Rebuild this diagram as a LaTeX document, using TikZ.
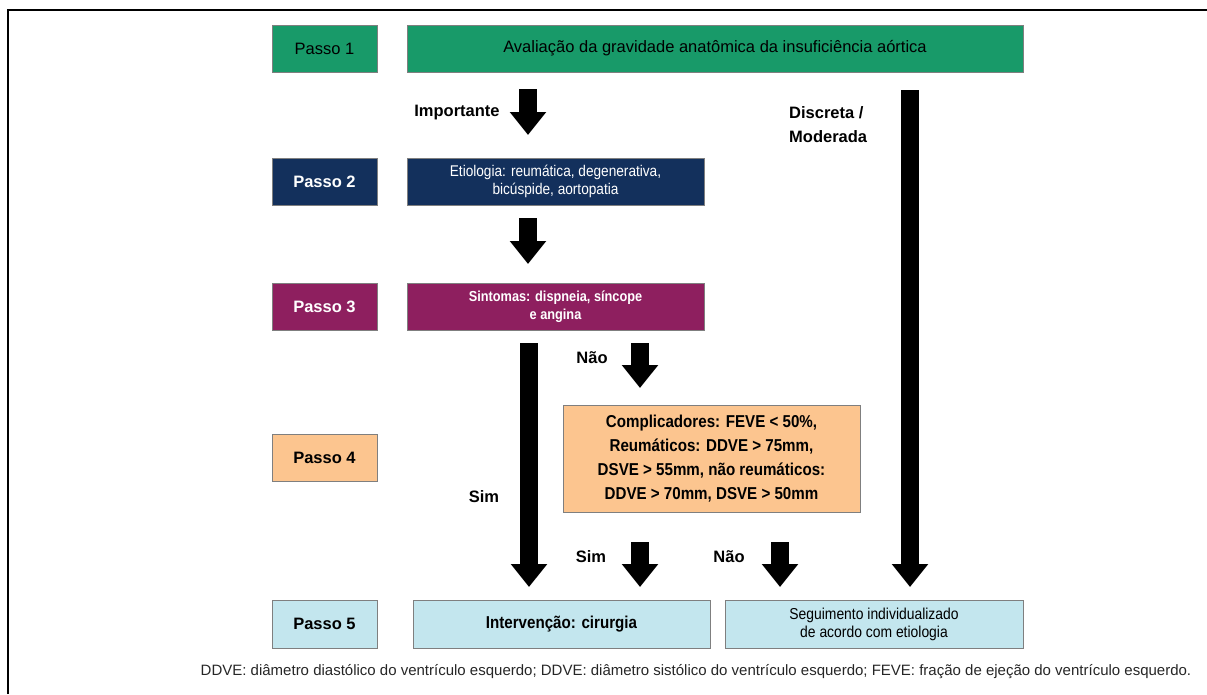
\documentclass[tikz,border=0pt]{standalone}
\usepackage{fontspec}
\setmainfont{Liberation Sans}
\newfontfamily\narrowf[FakeStretch=0.88]{Liberation Sans}
\usetikzlibrary{arrows.meta}
\definecolor{stepa}{HTML}{189A69}
\definecolor{stepb}{HTML}{13305C}
\definecolor{stepc}{HTML}{8E1F5F}
\definecolor{stepd}{HTML}{FCC58F}
\definecolor{stepe}{HTML}{C3E6EE}
\definecolor{rimc}{HTML}{7F7F7F}
\tikzset{
  pas/.style={draw=rimc,minimum width=105pt,minimum height=47pt,inner sep=0pt,font=\fontsize{16.5}{19}\selectfont\bfseries},
  bx/.style={draw=rimc,minimum height=47pt,inner sep=0pt,align=center},
  blk/.style={line width=18pt,-{Triangle[width=35pt,length=23pt]}},
  lb/.style={font=\fontsize{16.5}{24}\selectfont\bfseries,inner sep=0pt}
}

\begin{document}
\begin{tikzpicture}[x=1pt,y=-1pt]
\useasboundingbox (0,0) rectangle (1207,694);
\draw[line width=1.2pt] (8,694) -- (8,10) -- (1207,10);
% passos
\node[pas,fill=stepa,font=\fontsize{16.5}{19}\selectfont] (p1) at (324.5,48.5) {Passo 1};
\node[pas,fill=stepb,text=white] (p2) at (324.5,181.5) {Passo 2};
\node[pas,fill=stepc,text=white] (p3) at (324.5,306.5) {Passo 3};
\node[pas,fill=stepd] (p4) at (324.5,458) {Passo 4};
\node[pas,fill=stepe,minimum height=48pt] (p5) at (324.5,624) {Passo 5};
% boxes
\node[bx,fill=stepa,minimum width=616pt,font=\fontsize{16.5}{19}\selectfont] (aval) at (715,48.5) {Avalia\c{c}\~ao da gravidade anat\^omica da insufici\^encia a\'ortica};
\node[bx,fill=stepb,text=white,minimum width=297pt,font=\narrowf\fontsize{15.5}{18}\selectfont] (etio) at (555.5,181.5) {Etiologia: reum\'atica, degenerativa,\\bic\'uspide, aortopatia};
\node[bx,fill=stepc,text=white,minimum width=297pt,font=\narrowf\bfseries\fontsize{14.5}{18}\selectfont] (sint) at (555.5,306.5) {Sintomas: dispneia, s\'incope\\e angina};
\node[bx,fill=stepd,minimum width=297pt,minimum height=107pt,font=\narrowf\bfseries\fontsize{17.2}{24}\selectfont] (comp) at (711.5,458.5) {Complicadores: FEVE < 50\%,\\Reum\'aticos: DDVE > 75mm,\\DSVE > 55mm, n\~ao reum\'aticos:\\DDVE > 70mm, DSVE > 50mm};
\node[bx,fill=stepe,minimum width=297pt,minimum height=48pt,font=\narrowf\bfseries\fontsize{17.2}{19}\selectfont] (interv) at (561.5,624) {Interven\c{c}\~ao: cirurgia};
\node[bx,fill=stepe,minimum width=298pt,minimum height=48pt,font=\narrowf\fontsize{15.8}{18}\selectfont] (segu) at (874,624) {Seguimento individualizado\\de acordo com etiologia};
% arrow ends
\coordinate (a1s) at (528,89);  \coordinate (a1e) at (528,135);
\coordinate (a2s) at (528,218); \coordinate (a2e) at (528,264);
\coordinate (a3s) at (910,90);  \coordinate (a3e) at (910,587);
\coordinate (a4s) at (529,343); \coordinate (a4e) at (529,587);
\coordinate (a5s) at (640,343); \coordinate (a5e) at (640,388);
\coordinate (a6s) at (640,542); \coordinate (a6e) at (640,587);
\coordinate (a7s) at (780,542); \coordinate (a7e) at (780,587);
\foreach \s/\e in {a1s/a1e,a2s/a2e,a3s/a3e,a4s/a4e,a5s/a5e,a6s/a6e,a7s/a7e}
  \draw[blk] (\s) -- (\e);
% labels
\node[lb] (limp) at (457,113) {Importante};
\node[lb,anchor=west,align=left] (ldis) at (789,125) {Discreta /\\Moderada};
\node[lb] (lnao1) at (592,358) {N\~ao};
\node[lb] (lsim1) at (484,497) {Sim};
\node[lb] (lsim2) at (591,557) {Sim};
\node[lb] (lnao2) at (729,557) {N\~ao};
\node[font=\fontsize{15}{18}\selectfont,text=black!85,inner sep=0pt] (nota) at (696,672) {DDVE: di\^ametro diast\'olico do ventr\'iculo esquerdo; DDVE: di\^ametro sist\'olico do ventr\'iculo esquerdo; FEVE: fra\c{c}\~ao de eje\c{c}\~ao do ventr\'iculo esquerdo.};
\end{tikzpicture}
\end{document}
